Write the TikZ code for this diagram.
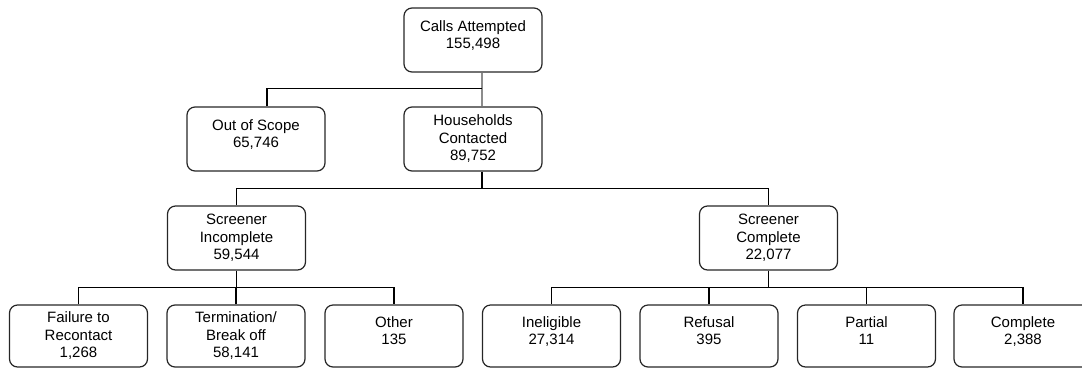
\documentclass[tikz,border=0pt]{standalone}
\usepackage{fontspec}
\setmainfont{Liberation Sans}
\begin{document}
\begin{tikzpicture}[x=1pt,y=-1pt,
  box/.style={draw=black!85, line width=1.2pt, rounded corners=8pt,
    minimum width=138pt, minimum height=64pt, inner sep=0pt, align=center,
    font=\fontsize{15}{17.5}\selectfont, text=black},
  low/.style={box, minimum height=62pt},
  two/.style={text depth=11pt},
  link/.style={draw=black, line width=1.2pt},
  trunk/.style={draw=black!45, line width=1.2pt}]
\useasboundingbox (0,0) rectangle (1082,368);
\clip (0,0) rectangle (1082,368);

% top levels
\node[box,two] (calls) at (473,40)  {Calls Attempted\\155,498};
\node[box,two] (scope) at (256,139) {Out of Scope\\65,746};
\node[box]     (hh)    at (473,139) {Households\\Contacted\\89,752};
\node[box]     (sinc)  at (236.5,238) {Screener\\Incomplete\\59,544};
\node[box]     (scom)  at (768.5,238) {Screener\\Complete\\22,077};

% outcomes
\node[low]     (fail) at (78.5,336)  {Failure to\\Recontact\\1,268};
\node[low]     (term) at (236,336)   {Termination/\\Break off\\58,141};
\node[low,two] (oth)  at (394,336)   {Other\\135};
\node[low,two] (inel) at (551.5,336) {Ineligible\\27,314};
\node[low,two] (ref)  at (709,336)   {Refusal\\395};
\node[low,two] (part) at (866.5,336) {Partial\\11};
\node[low,two] (comp) at (1023,336)  {Complete\\2,388};

% calls -> out of scope / households
\draw[trunk] ([xshift=9pt]calls.south) -- ([xshift=9pt]hh.north);
\path ([xshift=9pt]calls.south) ++(0,16) coordinate (j1);
\draw[link] ([xshift=11pt]scope.north) |- (j1);

% households -> screener
\path ([xshift=9pt]hh.south) ++(0,17) coordinate (j2);
\draw[link] ([xshift=9pt]hh.south) -- (j2);
\draw[link] (sinc.north) |- (j2) -| (scom.north);

% screener incomplete -> outcomes
\path (sinc.south) ++(0,17) coordinate (j3);
\draw[link] (sinc.south) -- (j3);
\draw[link] (fail.north) |- (j3) -| (oth.north);
\draw[link] (term.north) -- (term.north |- j3);

% screener complete -> outcomes
\path (scom.south) ++(0,17) coordinate (j4);
\draw[link] (scom.south) -- (j4);
\draw[link] (inel.north) |- (j4) -| (comp.north);
\draw[link] (ref.north) -- (ref.north |- j4);
\draw[link] (part.north) -- (part.north |- j4);
\end{tikzpicture}
\end{document}
